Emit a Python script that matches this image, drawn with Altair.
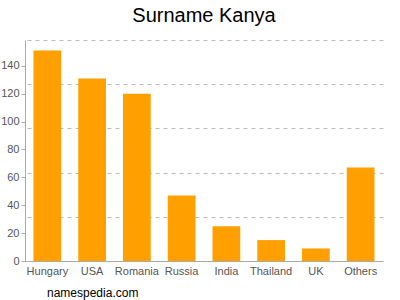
import altair as alt
import pandas as pd

countries = ["Hungary", "USA", "Romania", "Russia", "India", "Thailand", "UK", "Others"]
counts = [151, 131, 120, 47, 25, 15, 9, 67]
y_ticks = [0, 20, 40, 60, 80, 100, 120, 140]
y_max = 158.55
grid_vals = [31.71, 63.42, 95.13, 126.84, 158.55]

df = pd.DataFrame({"country": countries, "count": counts})
FONT = "Liberation Sans"

base = alt.Chart(df).encode(
    x=alt.X(
        "country:N",
        sort=None,
        scale=alt.Scale(paddingInner=0.38, paddingOuter=0.19),
        axis=alt.Axis(
            labelAngle=0, labelFontSize=11, labelColor="#555", labelFont=FONT,
            labelPadding=4, ticks=False, domainColor="#aaa",
            title="namespedia.com", titleFont=FONT, titleFontSize=12,
            titleFontWeight="normal", titleColor="#000", titleAlign="left",
            titleAnchor="start", titleX=21.5, titleY=31, titleBaseline="middle",
        ),
    )
)

grid_layer = base.mark_bar(opacity=0).encode(
    y=alt.Y(
        "count:Q",
        scale=alt.Scale(domain=[0, y_max], nice=False, zero=True),
        axis=alt.Axis(
            values=grid_vals, grid=True, gridDash=[4, 4], gridColor="#bbb",
            labels=False, ticks=False, domain=False, title=None, orient="right",
        ),
    )
)

bar_layer = base.mark_bar(color="#ffa000").encode(
    y=alt.Y(
        "count:Q",
        scale=alt.Scale(domain=[0, y_max], nice=False, zero=True),
        axis=alt.Axis(
            values=y_ticks, grid=False, labelFontSize=11, labelColor="#555",
            labelFont=FONT, tickColor="#aaa", tickSize=4, domainColor="#aaa",
            title=None, labelPadding=2,
        ),
    )
)

chart = (
    alt.layer(grid_layer, bar_layer)
    .resolve_scale(y="independent")
    .properties(
        width=358,
        height=221,
        autosize=alt.AutoSizeParams(type="none"),
        padding={"left": 25, "top": 40, "right": 17, "bottom": 39},
        title=alt.TitleParams(
            "Surname Kanya", fontSize=20, font=FONT, fontWeight="normal",
            color="#000", offset=14, anchor="middle",
        ),
    )
    .configure_view(stroke=None)
)

chart.save("out.html", embed_options={"renderer": "svg", "actions": False})
